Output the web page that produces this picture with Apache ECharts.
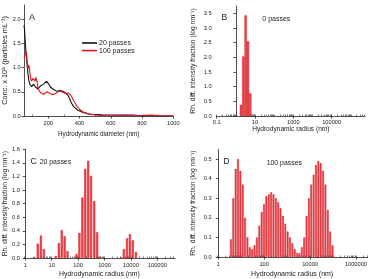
<!DOCTYPE html>
<html><head><meta charset="utf-8">
<script src="https://cdn.jsdelivr.net/npm/echarts@6/dist/echarts.min.js"></script>
<style>html,body{margin:0;padding:0;background:#fff}#c{width:370px;height:279px}</style>
</head><body><div id="c"></div>
<script>
// ---------- Panel A: NTA concentration vs hydrodynamic diameter ----------
const diam20 = [45,48,52,56,60,65,70,76,82,88,94,100,106,112,118,126,134,142,150,160,170,180,190,198,206,214,224,234,244,256,266,278,290,302,314,324,334,344,354,364,376,390,405,420,440,460,490,520,560,600,650,700,740,780,850,920,1000];
const conc20 = [1.88,1.8,1.6,1.4,1.25,1.05,0.88,0.74,0.66,0.63,0.61,0.63,0.66,0.64,0.6,0.57,0.56,0.58,0.62,0.65,0.66,0.69,0.72,0.7,0.65,0.6,0.56,0.55,0.53,0.51,0.52,0.53,0.52,0.5,0.48,0.44,0.38,0.3,0.24,0.19,0.15,0.12,0.1,0.08,0.06,0.04,0.03,0.03,0.02,0.02,0.02,0.02,0.02,0.01,0.005,0,0];
const diam100 = [45,48,52,55,58,61,64,67,70,73,76,79,83,88,93,98,103,108,112,116,120,124,128,133,140,148,156,164,172,180,190,200,210,220,230,240,250,260,270,280,290,300,310,320,330,340,350,360,370,380,390,400,410,425,440,460,480,500,540,600,700,800,860,900,950,1000];
const conc100 = [1.2,1.22,1.25,1.3,1.35,1.3,1.18,1.05,0.98,1.02,1.06,1.0,0.88,0.78,0.72,0.72,0.78,0.8,0.74,0.72,0.8,0.82,0.72,0.6,0.53,0.5,0.47,0.46,0.45,0.47,0.5,0.5,0.47,0.45,0.44,0.42,0.47,0.51,0.52,0.52,0.5,0.47,0.46,0.48,0.48,0.45,0.4,0.33,0.28,0.22,0.18,0.14,0.11,0.08,0.06,0.04,0.03,0.02,0.01,0.005,0.01,0.015,0.02,0.01,0.005,0];
const xTicksA = [200,400,600,800,1000];
const yTicksA = [0,0.5,1,1.5,2];

// ---------- Panel B: 0 passes ----------
const radiusB = [1.86,2.45,3.24,4.27,5.62];
const fracB = [0.38,2.03,3.43,2.55,0.77];
const xTicksB = [0.1,10,1000,100000];
const yTicksB = [0,0.5,1,1.5,2,2.5,3,3.5];

// ---------- Panel C: 20 passes ----------
const radiusC = [2.24,2.95,3.89,5.01, 14.1,18.6,24.0,30.9,39.8, 87.1,112,145,186,240,309,407,525,676, 4169,5370,7079,9120,11750,15490];
const fracC = [0.01,0.21,0.33,0.13, 0.03,0.22,0.41,0.32,0.10, 0.06,0.37,0.89,1.31,1.43,1.21,0.84,0.38,0.02, 0.01,0.13,0.29,0.35,0.26,0.09];
const xTicksC = [1,10,100,1000,10000,100000];
const yTicksC = [0,0.2,0.4,0.6,0.8,1.0,1.2,1.4,1.6];

// ---------- Panel D: 100 passes ----------
const radiusD = [3.55,4.50,5.70,7.23,9.16,11.6,14.7,18.7,23.7,30.0,38.0,48.2,61.1,77.4,98.2,124,158,200,254,321,407,516,655,830,1052,1334,1690,2143,2716,3443,4365,5534,7015,8892,11272,14289,18113,22961,29107,36898,46774,59293,75162,95280];
const fracD = [0.09,0.30,0.45,0.50,0.44,0.37,0.20,0.10,0.05,0.04,0.06,0.10,0.16,0.23,0.27,0.31,0.32,0.33,0.32,0.30,0.28,0.25,0.21,0.17,0.13,0.10,0.07,0.04,0.02,0.02,0.05,0.10,0.21,0.30,0.37,0.42,0.47,0.49,0.48,0.44,0.37,0.24,0.13,0.06];
const xTicksD = [1,100,10000,1000000];
const yTicksD = [0,0.1,0.2,0.3,0.4,0.5];

// ---------- styling ----------
const FONT = '"Liberation Sans", Arial, Helvetica, sans-serif';
const AXC = '#222';
const RED = '#e3121b';
const BAR = {color:'#ee4a50', borderColor:'#d0000c', borderWidth:0.45};
const L = v => Math.log10(v);
const fmtPow = v => { const x = Math.pow(10, v); return String(Math.round(x*1000)/1000); };

function logMinor(lo, hi){ const out=[]; for(let n=Math.floor(lo); n<=Math.ceil(hi); n++){ for(let k=1;k<10;k++){ const t=n+Math.log10(k); if(t>=lo-1e-9 && t<=hi+1e-9) out.push(t);} } return out; }

const grids = [
  {left:24, top:5, width:149.3, height:111},
  {left:216.7, top:6, width:148.3, height:110},
  {left:24, top:149.3, width:151, height:108.7},
  {left:216.7, top:149.3, width:151, height:108.7}
];

function xMain(gi, min, max, ticks, name, nameGap, fmt, margin, nameSize){
  return {type:'value', gridIndex:gi, min, max,
    axisLine:{show:true, onZero:false, lineStyle:{color:AXC, width:0.8}},
    axisTick:{show:true, length:2.5, customValues:ticks, lineStyle:{color:AXC, width:0.8}},
    axisLabel:{show:true, customValues:ticks, formatter:fmt, fontSize:5.7, color:'#222', fontFamily:FONT, margin},
    splitLine:{show:false},
    name, nameLocation:'middle', nameGap, nameTextStyle:{fontSize:nameSize, color:'#222', fontFamily:FONT}};
}
function xMinor(gi, min, max, ticks){
  return {type:'value', gridIndex:gi, min, max,
    axisLine:{show:false}, axisLabel:{show:false}, splitLine:{show:false},
    axisTick:{show:true, length:1.5, customValues:ticks, lineStyle:{color:AXC, width:0.6}}};
}
function yMain(gi, max, ticks, name, nameGap, margin, nameSize){
  return {type:'value', gridIndex:gi, min:0, max,
    axisLine:{show:true, lineStyle:{color:AXC, width:0.8}},
    axisTick:{show:true, length:2.5, customValues:ticks, lineStyle:{color:AXC, width:0.8}},
    axisLabel:{show:true, customValues:ticks, formatter:v=>v.toFixed(1), fontSize:5.7, color:'#222', fontFamily:FONT, margin},
    splitLine:{show:false},
    name, nameLocation:'middle', nameGap, nameRotate:90, nameTextStyle:{fontSize:nameSize, color:'#222', fontFamily:FONT}};
}

const yName = 'Rh. diff. intensity fraction (log nm\u207B\u00B9)';
const xName = 'Hydrodynamic radius (nm)';

const option = {
  animation:false,
  backgroundColor:'#fff',
  grid: grids,
  xAxis: [
    xMain(0, 45, 1000, xTicksA, 'Hydrodynamic diameter (nm)', 15, v=>String(v), 4, 6.3),
    xMinor(0, 45, 1000, [100,300,500,700,900]),
    xMain(1, -1, 6.74, xTicksB.map(L), xName, 10, fmtPow, 3, 6.6),
    xMinor(1, -1, 6.74, logMinor(-1, 6.74)),
    xMain(2, -0.05, 5.67, xTicksC.map(L), xName, 13, fmtPow, 4, 6.9),
    xMinor(2, -0.05, 5.67, logMinor(-0.05, 5.67)),
    xMain(3, -0.07, 6.51, xTicksD.map(L), xName, 14, fmtPow, 4.5, 7),
    xMinor(3, -0.07, 6.51, logMinor(-0.07, 6.51))
  ],
  yAxis: [
    yMain(0, 2.3, yTicksA, 'Conc. x 10\u2078 (particles mL\u207B\u00B9)', 12, 3.3, 7.3),
    yMain(1, 3.75, yTicksB, yName, 20, 5, 6.8),
    yMain(2, 1.6, yTicksC, yName, 13, 4, 6.8),
    yMain(3, 0.55, yTicksD, yName, 20, 5, 6.8)
  ],
  legend: {
    left:82, top:39.5, orient:'vertical', icon:'rect', itemWidth:15, itemHeight:1.6, itemGap:0.6,
    padding:0, textStyle:{fontSize:7, color:'#222', fontFamily:FONT, padding:[0,0,0,-3]},
    data:['20 passes','100 passes']
  },
  series: [
    {name:'20 passes', type:'line', xAxisIndex:0, yAxisIndex:0, symbol:'none', smooth:false,
      lineStyle:{color:'#111', width:1.1}, itemStyle:{color:'#111'},
      data: diam20.map((d,i)=>[d, conc20[i]])},
    {name:'100 passes', type:'line', xAxisIndex:0, yAxisIndex:0, symbol:'none', smooth:false,
      lineStyle:{color:RED, width:1.1}, itemStyle:{color:RED},
      data: diam100.map((d,i)=>[d, conc100[i]])},
    {type:'bar', xAxisIndex:2, yAxisIndex:1, barWidth:2.3, itemStyle:BAR,
      data: radiusB.map((r,i)=>[L(r), fracB[i]])},
    {type:'bar', xAxisIndex:4, yAxisIndex:2, barWidth:2.1, itemStyle:BAR,
      data: radiusC.map((r,i)=>[L(r), fracC[i]])},
    {type:'bar', xAxisIndex:6, yAxisIndex:3, barWidth:1.7, itemStyle:BAR,
      data: radiusD.map((r,i)=>[L(r), fracD[i]])}
  ],
  graphic: [
    {type:'text', left:29, top:13.5, style:{text:'A', font:'9px '+FONT, fill:'#222'}},
    {type:'text', left:221.5, top:13, style:{text:'B', font:'8.6px '+FONT, fill:'#222'}},
    {type:'text', left:262.3, top:15.5, style:{text:'0 passes', font:'7px '+FONT, fill:'#222'}},
    {type:'text', left:30.5, top:157.5, style:{text:'C', font:'8.6px '+FONT, fill:'#222'}},
    {type:'text', left:39.7, top:158.5, style:{text:'20 passes', font:'6.9px '+FONT, fill:'#222'}},
    {type:'text', left:223.3, top:157.5, style:{text:'D', font:'8.6px '+FONT, fill:'#222'}},
    {type:'text', left:266.7, top:159.5, style:{text:'100 passes', font:'6.9px '+FONT, fill:'#222'}}
  ]
};

const chart = echarts.init(document.getElementById('c'), null, {renderer:'canvas'});
chart.setOption(option);
</script>
</body></html>
